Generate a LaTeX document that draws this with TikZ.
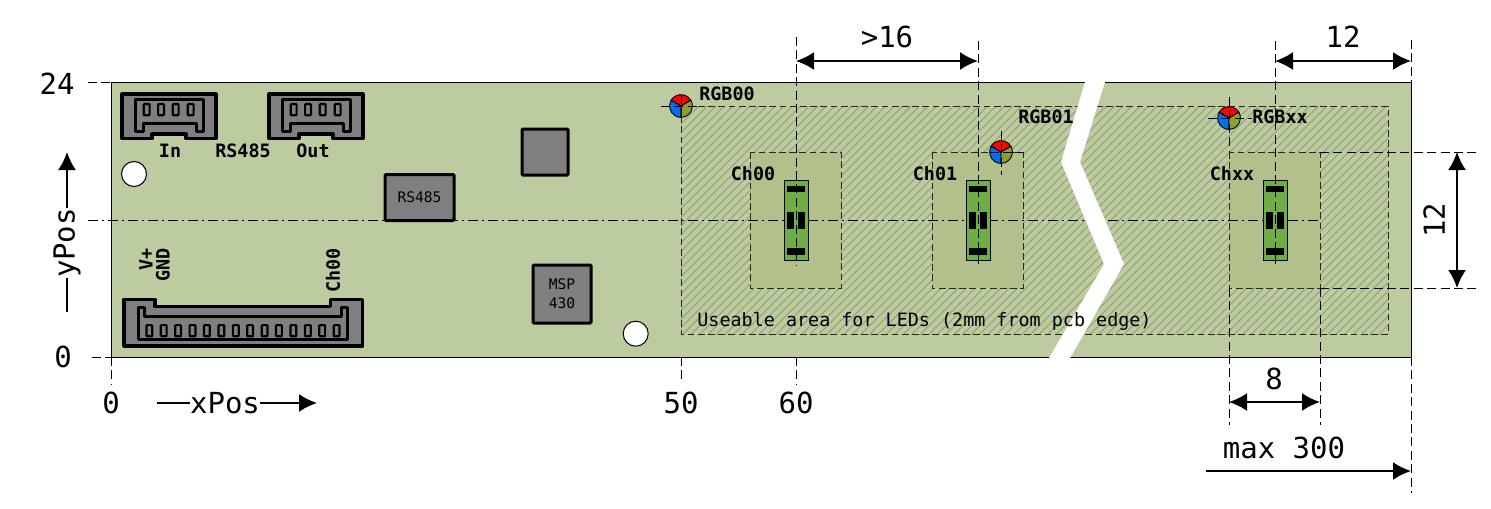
\documentclass[tikz,border=0pt]{standalone}
\usepackage{xcolor}
\usepackage{fontspec}
\setmonofont{DejaVu Sans Mono}
\usetikzlibrary{arrows.meta,positioning,patterns.meta}

\definecolor{pcbgreen}{HTML}{BCCBA0}
\definecolor{chgreen}{HTML}{B2C18B}
\definecolor{hatchgreen}{HTML}{8D9E70}
\definecolor{ledgreen}{HTML}{70AD47}
\definecolor{chipgrey}{HTML}{7F7F7F}
\definecolor{rgbblue}{HTML}{0070F0}
\definecolor{rgbolive}{HTML}{8AA033}

\begin{document}
\begin{tikzpicture}[x=0.5pt,y=-0.5pt,
  every node/.style={font=\ttfamily,inner sep=0pt},
  >={Latex[length=9pt,width=9pt]}
]

\tikzstyle{biglabel}=[font=\ttfamily\fontsize{14.5}{16}\selectfont]
\tikzstyle{smalllabel}=[font=\ttfamily\bfseries\fontsize{9.2}{11}\selectfont]
\tikzstyle{chip}=[draw,line width=1.5pt,fill=chipgrey,rounded corners=0.5pt,align=center,font=\ttfamily\fontsize{7.3}{9.5}\selectfont]
\tikzstyle{hole}=[draw,circle,fill=white,line width=0.5pt,minimum size=12.5pt]
\tikzstyle{housing}=[draw,line width=1.6pt,fill=chipgrey,line join=round]
\tikzstyle{pin}=[draw,line width=1.1pt,fill=chipgrey,rounded corners=0.4pt,minimum width=2.9pt,minimum height=5.6pt]
\tikzstyle{guide}=[line width=0.5pt,dash pattern=on 4.5pt off 2.2pt]
\tikzstyle{areaedge}=[line width=0.45pt,dash pattern=on 3.4pt off 1.7pt,draw=black!80!pcbgreen]
\tikzstyle{centerline}=[line width=0.45pt,dash pattern=on 5pt off 2pt on 1pt off 2pt]
\tikzstyle{dimline}=[<->,line width=1pt,draw=black]
\tikzstyle{axisline}=[line width=1pt,draw=black]
\tikzstyle{pad}=[fill=black]

\useasboundingbox (0,0) rectangle (1491,508);

% pcb and useable area
\fill[pcbgreen] (111,83) rectangle (1411,357);
\path[pattern={Lines[angle=45,distance=3pt,line width=0.45pt]},pattern color=hatchgreen] (681,106) rectangle (1388,334);
\draw[areaedge] (681,106) rectangle (1388,334);
\foreach \cx in {750,932,1229}
  \draw[areaedge,fill=chgreen] (\cx,152) rectangle ++(91,136);
\draw[black,line width=0.5pt] (111,83) rectangle (1411,357);
\draw[centerline] (88,220) -- (1320,220);

% break in the pcb
\fill[white] (1085,82) -- (1105,82) -- (1080,162) -- (1124,264) -- (1070,358) -- (1049,358)
  -- (1104,264) -- (1061,162) -- cycle;

% connectors
\foreach \jx/\jname in {0/In,147/Out} {
  \begin{scope}[xshift=\jx*0.5pt]
    \draw[housing] (122,94) -- (216,94) -- (216,138.5) -- (186,138.5) -- (186,134) -- (152,134) -- (152,138.5) -- (122,138.5) -- cycle;
    \draw[line width=1.5pt,line join=round] (135.7,99.7) -- (203.3,99.7) -- (203.3,131.3) -- (196.7,131.3) -- (196.7,123) -- (143.3,123) -- (143.3,131.3) -- (135.7,131.3) -- cycle;
    \foreach \px in {146.7,161,175.7,190.7}
      \node[pin] at (\px,109.7) {};
  \end{scope}
}
\draw[housing] (124,299.3) -- (155,299.3) -- (155,306.7) -- (330.7,306.7) -- (330.7,299.3) -- (362.7,299.3) -- (362.7,346) -- (124,346) -- cycle;
\draw[line width=1.5pt,line join=round] (138.3,307.7) -- (144.3,307.7) -- (144.3,316) -- (341.7,316) -- (341.7,307.7) -- (347.7,307.7) -- (347.7,339.3) -- (138.3,339.3) -- cycle;
\foreach \i in {0,...,13}
  \node[pin] at (149.3+\i*14.41,330.7) {};

% chips and holes
\node[chip,minimum width=23pt,minimum height=23pt] (cpu) at (545,152) {};
\node[chip,minimum width=34.5pt,minimum height=23pt] (rs) at (419.5,197.5) {RS485};
\node[chip,minimum width=29pt,minimum height=29pt] (msp) at (562,294) {MSP\\430};
\node[hole] (hole1) at (134,174) {};
\node[hole] (hole2) at (635.7,333.7) {};

% led boards
\foreach \lx in {796,978,1275} {
  \draw[fill=ledgreen,line width=0.5pt] (\lx-12,180) rectangle (\lx+12,260);
  \fill[pad] (\lx-9,186) rectangle (\lx+9,192);
  \fill[pad] (\lx-9,248) rectangle (\lx+9,255);
  \fill[pad] (\lx-9,212) rectangle (\lx-2,229);
  \fill[pad] (\lx+2,212) rectangle (\lx+9,229);
}

% rgb leds
\foreach \rx/\ry in {681/106,1001/152,1229/118} {
  \begin{scope}[shift={(\rx*0.5pt,-\ry*0.5pt)}]
    \filldraw[fill=red,line width=0.45pt] (0,0) -- (30:5.7pt) arc[start angle=30,end angle=150,radius=5.7pt] -- cycle;
    \filldraw[fill=rgbblue,line width=0.45pt] (0,0) -- (150:5.7pt) arc[start angle=150,end angle=270,radius=5.7pt] -- cycle;
    \filldraw[fill=rgbolive,line width=0.45pt] (0,0) -- (270:5.7pt) arc[start angle=270,end angle=390,radius=5.7pt] -- cycle;
  \end{scope}
}
\draw[guide] (661,106) -- (703,106);
\draw[guide] (990,152) -- (1024,152);
\draw[guide] (1001,131) -- (1001,175);
\draw[guide] (1208,118) -- (1252,118);

% guide lines
\draw[guide] (681,95) -- (681,118) (681,357) -- (681,380);
\draw[guide] (796,37) -- (796,265) (796,357) -- (796,385);
\draw[guide] (978,41) -- (978,265);
\draw[guide] (1275,41) -- (1275,265);
\draw[guide] (1229,97) -- (1229,152) (1229,288) -- (1229,425);
\draw[guide] (1320,288) -- (1320,425);
\draw[guide] (1411,40) -- (1411,83) (1411,357) -- (1411,493);
\draw[guide] (111,357) -- (111,385);
\draw[guide] (88,83) -- (111,83) (92,357) -- (111,357);
\draw[guide] (1320,152) -- (1480,152);
\draw[guide] (1320,288) -- (1480,288);

% dimensions
\coordinate (d16a) at (796,61);
\coordinate (d16b) at (978,61);
\coordinate (d12a) at (1275,61);
\coordinate (d12b) at (1411,61);
\coordinate (d8a) at (1229,402);
\coordinate (d8b) at (1320,402);
\coordinate (dmaxa) at (1206,471);
\coordinate (dmaxb) at (1411,471);
\coordinate (dva) at (1457,152);
\coordinate (dvb) at (1457,288);
\draw[dimline] (d16a) -- (d16b);
\draw[dimline] (d12a) -- (d12b);
\draw[dimline] (d8a) -- (d8b);
\draw[dimline] (dva) -- (dvb);
\draw[axisline,->] (dmaxa) -- (dmaxb);

\node[biglabel] (l16) at (887,37) {>16};
\node[biglabel] (l12a) at (1343,37) {12};
\node[biglabel] (l8) at (1274,379) {8};
\node[biglabel] (lmax) at (1284,448) {max 300};
\node[biglabel,rotate=90] (l12b) at (1434,220) {12};
\node[biglabel] (y24) at (57,84) {24};
\node[biglabel] (y0) at (63,357) {0};
\node[biglabel] (x0) at (111,403) {0};
\node[biglabel] (x50) at (681,403) {50};
\node[biglabel] (x60) at (796,403) {60};

% axis labels
\node[biglabel] (xpos) at (225,403) {xPos};
\coordinate (xa) at (157,403);
\coordinate (xb) at (317,403);
\draw[axisline] (xa) -- (xpos);
\draw[axisline,->] (xpos) -- (xb);
\node[biglabel,rotate=90] (ypos) at (67,243) {yPos};
\coordinate (ya) at (67,312);
\coordinate (yb) at (67,152);
\draw[axisline] (ya) -- (ypos);
\draw[axisline,->] (ypos) -- (yb);

% small labels
\node[smalllabel] (lin) at (170,151) {In};
\node[smalllabel] (lrs) at (243,151) {RS485};
\node[smalllabel] (lout) at (313,151) {Out};
\node[smalllabel,rotate=90,anchor=east] (lvp) at (146,248) {V+};
\node[smalllabel,rotate=90,anchor=east] (lgnd) at (163,248) {GND};
\node[smalllabel,rotate=90,anchor=east] (lch) at (333,248) {Ch00};
\node[smalllabel] (lrgb0) at (727,94) {RGB00};
\node[smalllabel] (lrgb1) at (1046,117) {RGB01};
\node[smalllabel] (lrgbx) at (1280,117) {RGBxx};
\node[smalllabel] (lch0) at (753,174) {Ch00};
\node[smalllabel] (lch1) at (935,174) {Ch01};
\node[smalllabel] (lchx) at (1232,174) {Chxx};
\node[font=\ttfamily\fontsize{9.2}{11}\selectfont,anchor=west] (larea) at (697,321) {Useable area for LEDs (2mm from pcb edge)};

\end{tikzpicture}
\end{document}
